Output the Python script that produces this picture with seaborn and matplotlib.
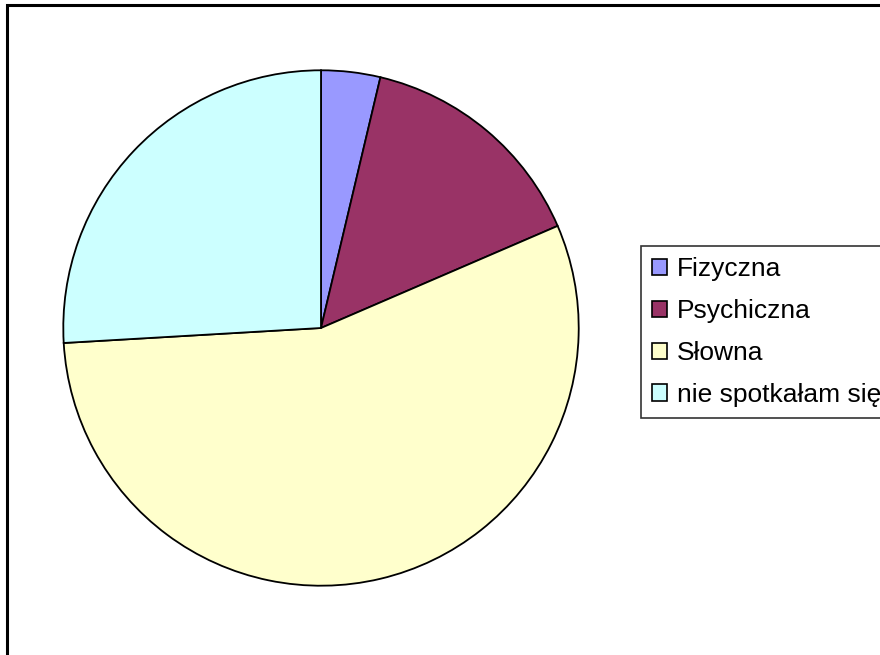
import matplotlib
matplotlib.use("Agg")
import matplotlib.pyplot as plt
import seaborn as sns
from matplotlib.patches import Rectangle

labels = ["Fizyczna", "Psychiczna", "Słowna", "nie spotkałam się"]
counts = [1, 4, 15, 7]
colors = ["#9999FF", "#993366", "#FFFFCC", "#CCFFFF"]

sns.set_theme(style="white")
plt.rcParams["font.family"] = ["Liberation Sans", "DejaVu Sans"]
plt.rcParams["text.color"] = "black"

fig = plt.figure(figsize=(8.8, 6.55), dpi=100)
fig.patch.set_facecolor("white")

# outer chart frame (right and bottom edges fall outside the picture)
fig.patches.append(Rectangle((7 / 880, -0.1), 1.2, 1 - 5 / 655 + 0.1,
                             transform=fig.transFigure, fill=False,
                             edgecolor="black", linewidth=2.2))

ax = fig.add_axes([62 / 880, 68 / 655, 518 / 880, 518 / 655])
wedges, _ = ax.pie(counts, colors=colors, startangle=90, counterclock=False,
                   radius=1.0,
                   wedgeprops=dict(edgecolor="black", linewidth=1.3))
ax.set_xlim(-1.005, 1.005)
ax.set_ylim(-1.005, 1.005)
ax.set_aspect("equal")
ax.axis("off")

leg = fig.legend(wedges, labels, loc="upper left",
                 bbox_to_anchor=(641 / 880, 1 - 246 / 655),
                 bbox_transform=fig.transFigure, borderaxespad=0,
                 frameon=True, fancybox=False, fontsize=19,
                 handlelength=0.57, handleheight=0.57, handletextpad=0.38,
                 labelspacing=0.68, borderpad=0.42)
leg.get_frame().set_edgecolor("black")
leg.get_frame().set_linewidth(1.2)
for h in leg.legend_handles:
    h.set_linewidth(1.2)
for t in leg.get_texts():
    t.set_color("black")

fig.savefig("out.png", dpi=100)
